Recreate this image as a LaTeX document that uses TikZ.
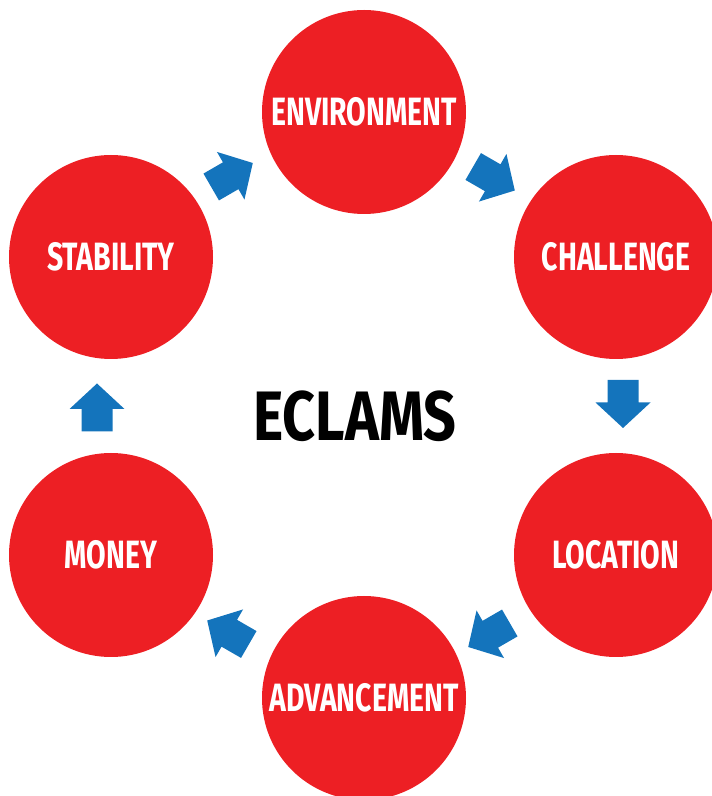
\documentclass[tikz,border=0pt]{standalone}
\usepackage{fontspec}
\newfontfamily\condfont[FakeStretch=0.72]{Fira Sans Bold}
\newfontfamily\titlefont[FakeStretch=0.82]{Fira Sans Bold}
\definecolor{cycred}{HTML}{ED1F24}
\definecolor{cycblue}{HTML}{1474BC}
\tikzset{
  stage/.style={circle, fill=cycred, minimum size=204pt, inner sep=0pt, text=white, font=\condfont\fontsize{39.5}{39.5}\selectfont},
  flow/.pic={\fill[cycblue] (-24,-15.5) -- (-1.5,-15.5) -- (-1.5,-27.5) -- (24,0) -- (-1.5,27.5) -- (-1.5,15.5) -- (-24,15.5) -- cycle;}
}
\begin{document}
\begin{tikzpicture}[x=1pt,y=1pt]
\useasboundingbox (0,0) rectangle (712,796);
\clip (0,0) rectangle (712,796);
\node[stage] (env) at (364,684) {ENVIRONMENT}; % Environment
\node[stage] (chal) at (616,539) {CHALLENGE}; % Challenge
\node[stage] (loc) at (616,241) {LOCATION}; % Location
\node[stage] (adv) at (364,98) {ADVANCEMENT}; % Advancement
\node[stage] (mon) at (111,241) {MONEY}; % Money
\node[stage] (stab) at (111,539) {STABILITY}; % Stability
\node[font=\titlefont\fontsize{70}{70}\selectfont] (title) at (355,380) {ECLAMS};

\pic[rotate=30] at (232,621) {flow}; % stab -> env
\pic[rotate=-30] at (494,617.5) {flow}; % env -> chal
\pic[rotate=-90] at (623,392) {flow}; % chal -> loc
\pic[rotate=-150] at (489,161) {flow}; % loc -> adv
\pic[rotate=150] at (228,163.5) {flow}; % adv -> mon
\pic[rotate=90] at (97,388.5) {flow}; % mon -> stab
\end{tikzpicture}
\end{document}
